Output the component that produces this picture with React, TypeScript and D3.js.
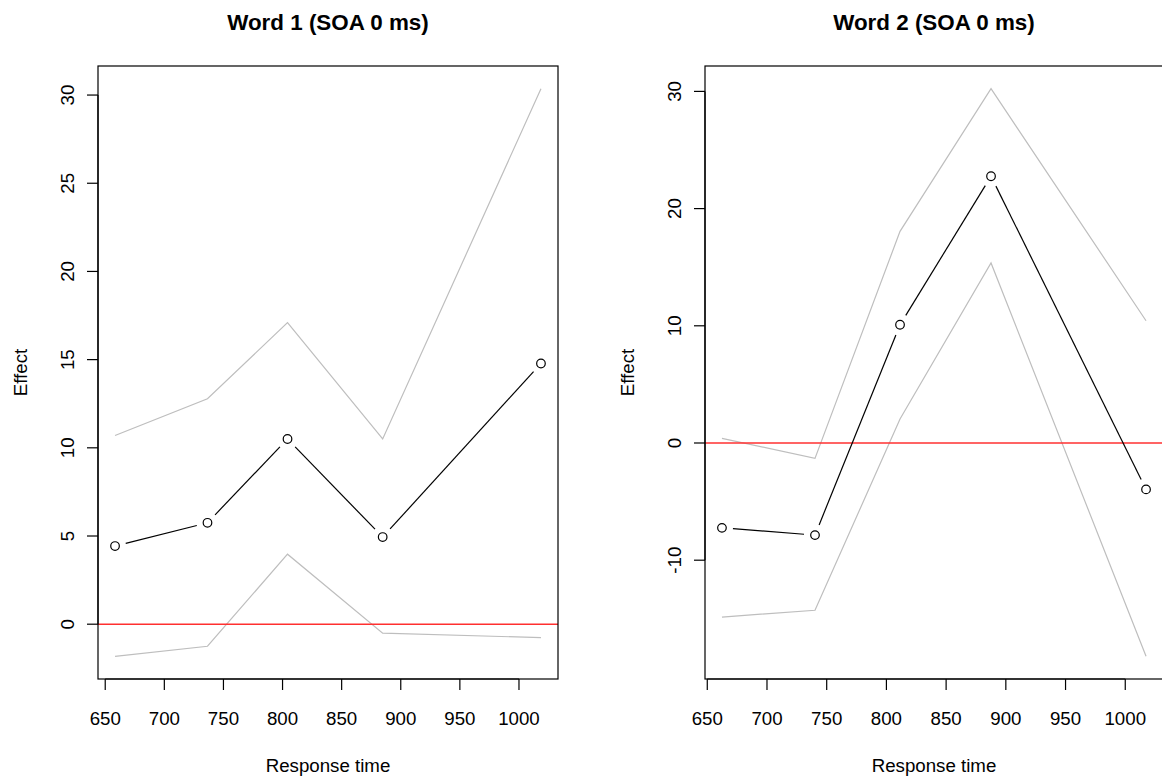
import React from 'react';
import * as d3 from 'd3';

// Word 1: mean response time per bin, effect estimate and its interval
const word1Rt = [658.3, 736.5, 804.2, 884.7, 1018.6];
const word1Effect = [4.43, 5.75, 10.5, 4.94, 14.78];
const word1Upper = [10.7, 12.78, 17.1, 10.5, 30.36];
const word1Lower = [-1.82, -1.25, 3.97, -0.51, -0.76];

// Word 2
const word2Rt = [662.3, 740.2, 811.4, 887.6, 1017.4];
const word2Effect = [-7.24, -7.86, 10.09, 22.76, -3.96];
const word2Upper = [0.4, -1.31, 18.06, 30.23, 10.43];
const word2Lower = [-14.85, -14.27, 2.05, 15.36, -18.2];

const xTicks = [650, 700, 750, 800, 850, 900, 950, 1000];
const word1YTicks = [0, 5, 10, 15, 20, 25, 30];
const word2YTicks = [-10, 0, 10, 20, 30];

const FONT = '"Liberation Sans", Arial, Helvetica, sans-serif';
const FS = 18.7;
const TOP = 66;
const BOTTOM = 679;
const TICK = 11;
const GAP = 11;

// pad a range by 4% on each side, like R's default axis style
function padded(vals: number[]): [number, number] {
  const [lo, hi] = d3.extent(vals) as [number, number];
  const d = (hi - lo) * 0.04;
  return [lo - d, hi + d];
}

type PanelProps = {
  title: string;
  rt: number[];
  effect: number[];
  upper: number[];
  lower: number[];
  yTicks: number[];
  x0: number;
  x1: number;
};

function Panel({ title, rt, effect, upper, lower, yTicks, x0, x1 }: PanelProps) {
  const x = d3.scaleLinear().domain(padded(rt)).range([x0, x1]);
  const y = d3
    .scaleLinear()
    .domain(padded([...effect, ...upper, ...lower]))
    .range([BOTTOM, TOP]);

  const line = d3
    .line<[number, number]>()
    .x((d) => x(d[0]))
    .y((d) => y(d[1]));

  const band = (vals: number[]) => line(rt.map((r, i) => [r, vals[i]] as [number, number])) || '';

  const pts = rt.map((r, i) => [x(r), y(effect[i])] as [number, number]);
  const segs: [number, number, number, number][] = [];
  for (let i = 0; i < pts.length - 1; i++) {
    const [ax, ay] = pts[i];
    const [bx, by] = pts[i + 1];
    const len = Math.hypot(bx - ax, by - ay);
    if (len <= 2 * GAP) continue;
    const ux = (bx - ax) / len;
    const uy = (by - ay) / len;
    segs.push([ax + ux * GAP, ay + uy * GAP, bx - ux * GAP, by - uy * GAP]);
  }

  const cx = (x0 + x1) / 2;
  const cy = (TOP + BOTTOM) / 2;
  const y0 = y(yTicks[0]);
  const yN = y(yTicks[yTicks.length - 1]);

  return (
    <g fontFamily={FONT}>
      <text x={cx} y={30} textAnchor="middle" fontWeight="bold" fontSize={22.4} fill="#000">
        {title}
      </text>

      <path d={band(upper)} fill="none" stroke="#bebebe" strokeWidth={1.2} />
      <path d={band(lower)} fill="none" stroke="#bebebe" strokeWidth={1.2} />

      <line x1={x0} x2={x1} y1={y(0)} y2={y(0)} stroke="#ff3030" strokeWidth={1.5} />

      {segs.map((s, i) => (
        <line key={i} x1={s[0]} y1={s[1]} x2={s[2]} y2={s[3]} stroke="#000" strokeWidth={1.2} />
      ))}
      {pts.map((p, i) => (
        <circle key={i} cx={p[0]} cy={p[1]} r={4.3} fill="none" stroke="#000" strokeWidth={1.2} />
      ))}

      <rect x={x0} y={TOP} width={x1 - x0} height={BOTTOM - TOP} fill="none" stroke="#000" strokeWidth={1.2} />

      {/* x axis */}
      <line x1={x(xTicks[0])} x2={x(xTicks[xTicks.length - 1])} y1={BOTTOM} y2={BOTTOM} stroke="#000" strokeWidth={1.2} />
      {xTicks.map((t) => (
        <g key={t}>
          <line x1={x(t)} x2={x(t)} y1={BOTTOM} y2={BOTTOM + TICK} stroke="#000" strokeWidth={1.2} />
          <text x={x(t)} y={724.7} textAnchor="middle" fontSize={FS} fill="#000">
            {t}
          </text>
        </g>
      ))}
      <text x={cx} y={772} textAnchor="middle" fontSize={FS} fill="#000">
        Response time
      </text>

      {/* y axis */}
      <line x1={x0} x2={x0} y1={y0} y2={yN} stroke="#000" strokeWidth={1.2} />
      {yTicks.map((t) => (
        <g key={t}>
          <line x1={x0 - TICK} x2={x0} y1={y(t)} y2={y(t)} stroke="#000" strokeWidth={1.2} />
          <text
            x={x0 - 24.3}
            y={y(t)}
            transform={`rotate(-90, ${x0 - 24.3}, ${y(t)})`}
            textAnchor="middle"
            fontSize={FS}
            fill="#000"
          >
            {t}
          </text>
        </g>
      ))}
      <text
        x={x0 - 71.3}
        y={cy}
        transform={`rotate(-90, ${x0 - 71.3}, ${cy})`}
        textAnchor="middle"
        fontSize={FS}
        fill="#000"
      >
        Effect
      </text>
    </g>
  );
}

export default function App() {
  return (
    <svg
      width={1162}
      height={778}
      style={{ position: 'absolute', left: 0, top: 0, background: '#fff', display: 'block' }}
    >
      <rect width={1162} height={778} fill="#fff" />
      <Panel
        title="Word 1 (SOA 0 ms)"
        rt={word1Rt}
        effect={word1Effect}
        upper={word1Upper}
        lower={word1Lower}
        yTicks={word1YTicks}
        x0={98}
        x1={558}
      />
      <Panel
        title="Word 2 (SOA 0 ms)"
        rt={word2Rt}
        effect={word2Effect}
        upper={word2Upper}
        lower={word2Lower}
        yTicks={word2YTicks}
        x0={705}
        x1={1163}
      />
    </svg>
  );
}
